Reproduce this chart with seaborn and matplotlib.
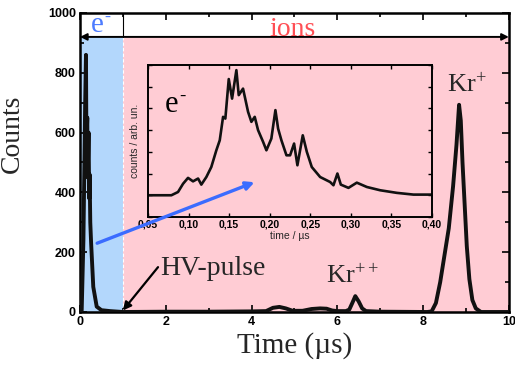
import numpy as np
import pandas as pd
import matplotlib
matplotlib.use("Agg")
import matplotlib.pyplot as plt
import seaborn as sns
from matplotlib.patches import FancyArrowPatch
from matplotlib.ticker import MultipleLocator

# ---------------- data ----------------
# main time-of-flight spectrum (time in µs, counts)
t_main = [0.0, 0.04, 0.08, 0.10, 0.12, 0.14, 0.15, 0.17, 0.18, 0.20, 0.215, 0.225,
          0.24, 0.26, 0.31, 0.39, 0.5, 0.7, 1.0, 2.0, 3.0, 4.0, 4.34, 4.5, 4.65,
          4.8, 4.96, 5.19, 5.4, 5.6, 5.75, 5.88, 6.0, 6.2, 6.28, 6.35, 6.42, 6.5,
          6.58, 6.67, 7.0, 8.1, 8.2, 8.3, 8.4, 8.5, 8.6, 8.7, 8.78, 8.84, 8.88,
          8.92, 8.97, 9.02, 9.08, 9.15, 9.23, 9.35, 10.0]
counts_main = [0, 5, 240, 460, 690, 860, 560, 650, 450, 600, 380, 460,
               300, 230, 84, 18, 6, 3, 0, 1, 1, 2, 3, 14, 17,
               12, 4, 4, 10, 12, 11, 5, 3, 3, 8, 30, 53, 35,
               12, 3, 1, 0, 2, 30, 100, 190, 280, 420, 560, 693, 640,
               500, 360, 220, 110, 40, 12, 0, 0]

# inset: electron signal (time in µs, arbitrary units)
t_inset = [0.05, 0.0788, 0.087, 0.0932, 0.0993, 0.1055, 0.1117, 0.1157, 0.1219,
           0.128, 0.1342, 0.1384, 0.1425, 0.1453, 0.1495, 0.1536, 0.1589, 0.1618,
           0.1671, 0.1733, 0.1774, 0.1815, 0.1856, 0.1918, 0.1959, 0.202, 0.207,
           0.2103, 0.2144, 0.2206, 0.2251, 0.23, 0.2341, 0.2407, 0.2457, 0.2518,
           0.2621, 0.2744, 0.2785, 0.2834, 0.2876, 0.297, 0.3073, 0.3197, 0.3361,
           0.3566, 0.3771, 0.3998]
sig_inset = [1.0, 1.0, 1.15, 1.53, 1.80, 1.64, 1.77, 1.49, 1.84,
             2.30, 3.07, 3.53, 4.61, 4.53, 6.35, 5.45, 6.76, 5.61,
             5.91, 4.84, 4.38, 4.61, 4.0, 3.46, 3.07, 3.61, 4.92,
             4.07, 3.53, 2.84, 2.84, 3.38, 2.38, 3.76, 3.0, 2.30,
             1.84, 1.61, 1.46, 2.0, 1.49, 1.34, 1.58, 1.38, 1.23,
             1.11, 1.03, 1.03]

x_ticks_main = [0, 2, 4, 6, 8, 10]
y_ticks_main = [0, 200, 400, 600, 800, 1000]
x_ticks_inset = [0.05, 0.10, 0.15, 0.20, 0.25, 0.30, 0.35, 0.40]
x_ticklabels_inset = ["0,05", "0,10", "0,15", "0,20", "0,25", "0,30", "0,35", "0,40"]

df_main = pd.DataFrame({"time": t_main, "counts": counts_main})
df_inset = pd.DataFrame({"time": t_inset, "signal": sig_inset})

# ---------------- style ----------------
sns.set_theme(style="ticks")
plt.rcParams["font.family"] = ["Liberation Serif", "DejaVu Serif"]
plt.rcParams["mathtext.fontset"] = "custom"
plt.rcParams["mathtext.rm"] = "Liberation Serif"
plt.rcParams["mathtext.it"] = "Liberation Serif:italic"

SANS = ["Liberation Sans", "DejaVu Sans"]
BLUE_BG = "#b3d7fc"
PINK_BG = "#ffccd4"

fig = plt.figure(figsize=(5.15, 3.69), dpi=100)
ax = fig.add_axes([0.1553, 0.1545, 0.8327, 0.8103])

# backgrounds
ax.axvspan(0, 1, ymin=0, ymax=0.92, color=BLUE_BG, lw=0, zorder=0)
ax.axvspan(1, 10, ymin=0, ymax=0.92, color=PINK_BG, lw=0, zorder=0)
ax.plot([1, 1], [0, 920], color="white", lw=0.8, ls=(0, (3, 2)), zorder=1)
ax.plot([1, 1], [920, 1000], color="black", lw=0.8, zorder=1)

sns.lineplot(data=df_main, x="time", y="counts", ax=ax, color="#111111",
             lw=2.8, sort=False, estimator=None, zorder=3)

ax.set_xlim(0, 10)
ax.set_ylim(0, 1000)
ax.set_xticks(x_ticks_main)
ax.set_yticks(y_ticks_main)
ax.xaxis.set_minor_locator(MultipleLocator(1))
ax.yaxis.set_minor_locator(MultipleLocator(100))
ax.tick_params(which="both", direction="in", top=True, right=True, width=1.2,
               colors="black")
ax.tick_params(which="major", length=5, pad=3)
ax.tick_params(which="minor", length=3)
for lab in ax.get_xticklabels() + ax.get_yticklabels():
    lab.set_family(SANS)
    lab.set_fontweight("bold")
    lab.set_fontsize(9)
for s in ax.spines.values():
    s.set_linewidth(1.8)
    s.set_color("black")

ax.set_xlabel("Time (µs)", fontsize=21, labelpad=3)
ax.set_ylabel("Counts", fontsize=20)
ax.yaxis.set_label_coords(-0.128, 0.595)


def sup_label(axis, x, y, base, sup, size, color="black", dx=None, dy=None):
    """Base text with a short superscript drawn beside it."""
    axis.text(x, y, base, color=color, fontsize=size, ha="left",
              va="baseline", zorder=6)
    axis.annotate(sup, xy=(x, y), xycoords="data",
                  xytext=(dx, dy), textcoords="offset points",
                  color=color, fontsize=size * 0.62, ha="left",
                  va="baseline", zorder=6, family=["Liberation Serif"])


# double arrow along top
ax.annotate("", xy=(0.0, 920), xytext=(10.0, 920),
            arrowprops=dict(arrowstyle="<|-|>", lw=1.4, color="black",
                            shrinkA=0, shrinkB=0, mutation_scale=10), zorder=4)
sup_label(ax, 0.25, 935, "e", "-", 21, color="#4d7cff", dx=9.6, dy=7.5)
ax.text(4.42, 923, "ions", color="#ff4f55", fontsize=20, ha="left",
        va="baseline", zorder=5)

# labels
ax.text(1.86, 123, "HV-pulse", fontsize=20, ha="left", va="baseline", zorder=5)
ax.annotate("", xy=(1.0, 5), xytext=(1.82, 150),
            arrowprops=dict(arrowstyle="-|>", lw=1.6, color="black",
                            shrinkA=0, shrinkB=0, mutation_scale=12), zorder=5)
ax.text(8.56, 733, "Kr$^{+}$", fontsize=19, ha="left", va="baseline", zorder=5)
ax.text(5.73, 97, "Kr$^{++}$", fontsize=19, ha="left", va="baseline", zorder=5)

# ---------------- inset ----------------
axi = fig.add_axes([0.2874, 0.412, 0.5515, 0.412])
axi.set_facecolor("none")
sns.lineplot(data=df_inset, x="time", y="signal", ax=axi, color="#111111",
             lw=1.9, sort=False, estimator=None)
axi.set_xlim(0.05, 0.40)
axi.set_ylim(0, 7)
axi.set_xticks(x_ticks_inset)
axi.set_xticklabels(x_ticklabels_inset)
axi.yaxis.set_major_locator(MultipleLocator(1))
axi.set_yticklabels([])
axi.tick_params(direction="in", top=True, right=True, length=3, width=1.0,
                pad=2, colors="black")
for lab in axi.get_xticklabels():
    lab.set_family(SANS)
    lab.set_fontweight("bold")
    lab.set_fontsize(7.5)
for s in axi.spines.values():
    s.set_linewidth(1.4)
    s.set_color("black")
axi.set_xlabel("time / µs", fontsize=7.5, family=SANS, labelpad=1)
axi.set_ylabel("counts / arb. un.", fontsize=7.5, family=SANS, labelpad=4)
sup_label(axi, 0.071, 4.84, "e", "-", 22, dx=10.0, dy=8.0)

# blue arrow drawn above both axes
arr = FancyArrowPatch((0.4, 230), (4.07, 434), transform=ax.transData,
                      arrowstyle="-|>", mutation_scale=12, lw=2.4,
                      color="#3b6cff", shrinkA=0, shrinkB=0)
fig.add_artist(arr)

fig.savefig("out.png", dpi=100)
